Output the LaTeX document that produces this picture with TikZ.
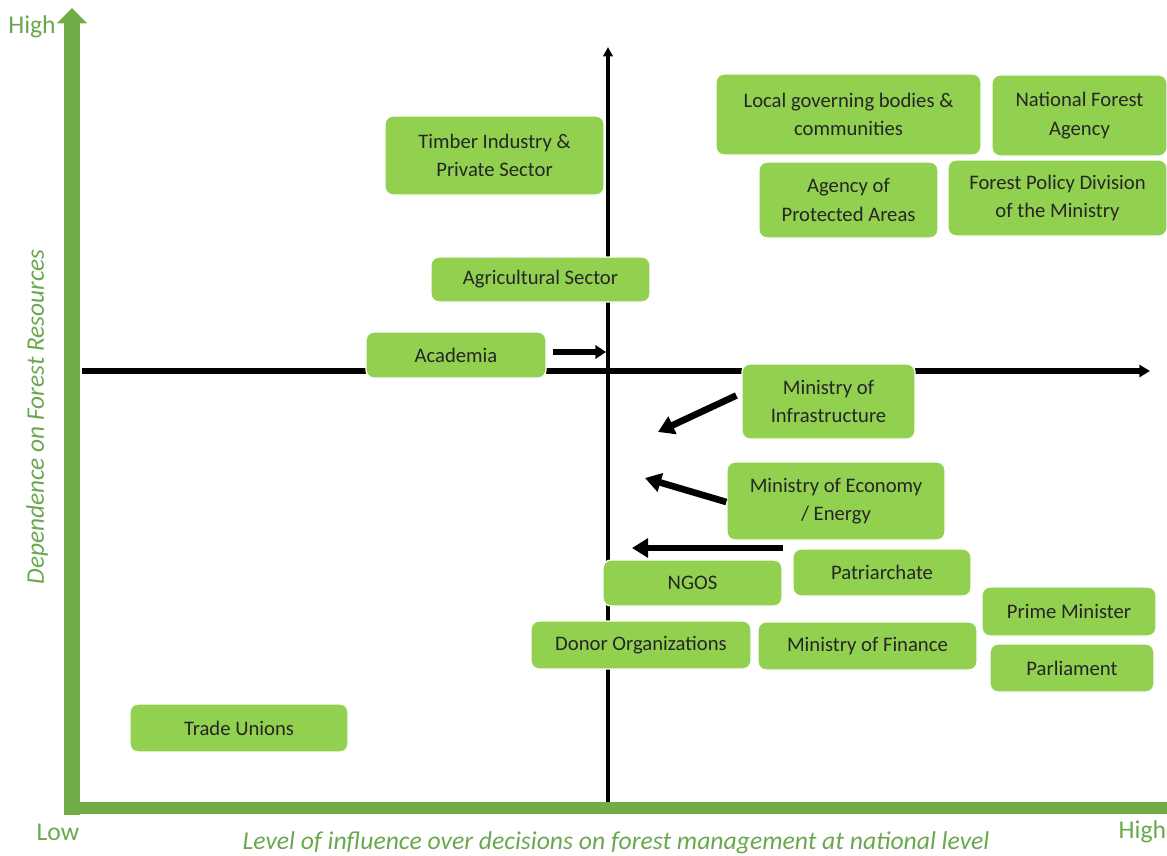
\documentclass[tikz,border=0pt]{standalone}
\usepackage{fontspec}
\setmainfont{Carlito}
\usetikzlibrary{arrows.meta}
\definecolor{boxgreen}{HTML}{92D050}
\definecolor{axgreen}{HTML}{70AD47}
\definecolor{labgreen}{HTML}{6AA84F}
\begin{document}
\begin{tikzpicture}[x=0.75pt,y=-0.75pt,
  bx/.style={rectangle, rounded corners=6pt, fill=boxgreen, draw=white, line width=1pt,
    align=center, inner sep=2pt, font=\fontsize{15.5}{21.5}\selectfont, text=black!85},
  axlab/.style={text=labgreen, font=\fontsize{19.25}{22}\selectfont},
  blk/.style={line width=3.5pt, black},
  mover/.style={line width=5pt, black, -{Triangle[length=12pt,width=14pt]}}
]
\clip (0,0) rectangle (1167,856);
\useasboundingbox (0,0) rectangle (1167,856);

% green axes
\coordinate (gtop) at (72,8);
\coordinate (gright) at (1190,808);
\draw[axgreen, line width=11.5pt, -{Triangle[length=11.5pt,width=22pt]}] (72,815) -- (gtop);
\draw[axgreen, line width=9.5pt, -{Triangle[length=11.5pt,width=22pt]}] (64,808) -- (gright);

% black quadrant axes
\coordinate (vbot) at (608,802);
\coordinate (vtop) at (608,47);
\coordinate (hleft) at (82,371);
\coordinate (hright) at (1150,371);
\draw[blk, -{Triangle[length=7pt,width=7pt]}] (vbot) -- (vtop);
\draw[blk, line width=4pt, -{Triangle[length=8pt,width=9pt]}] (hleft) -- (hright);

% axis labels
\node[axlab] (hi1) at (32,27) {High};
\node[axlab] (lo) at (58,832) {Low};
\node[axlab, anchor=east, inner sep=0.5pt] (hi2) at (1167,832) {High};
\node[axlab, font=\fontsize{19.25}{22}\selectfont\itshape] (xt) at (616,843) {Level of influence over decisions on forest management at national level};
\node[axlab, font=\fontsize{19}{22}\selectfont\itshape, rotate=90] (yt) at (37,417) {Dependence on Forest Resources};

% boxes
\node[bx, minimum width=164.25pt, minimum height=59.25pt] (timber) at (494.5,155.5) {Timber Industry \&\\Private Sector};
\node[bx, minimum width=198.75pt, minimum height=60.75pt] (local) at (848.5,114.5) {Local governing bodies \&\\communities};
\node[bx, minimum width=131.25pt, minimum height=60.75pt] (nfa) at (1079.5,115.5) {National Forest\\Agency};
\node[bx, minimum width=134.25pt, minimum height=57pt] (apa) at (848.5,200) {Agency of\\Protected Areas};
\node[bx, minimum width=164.25pt, minimum height=57pt] (fpd) at (1057.5,198) {Forest Policy Division\\of the Ministry};
\node[bx, minimum width=164.25pt, minimum height=33.75pt] (agri) at (540.5,279.5) {Agricultural Sector};
\node[bx, minimum width=135pt, minimum height=34.5pt] (acad) at (456,355) {Academia};
\node[bx, minimum width=129.75pt, minimum height=56.25pt] (infra) at (828.5,401.5) {Ministry of\\Infrastructure};
\node[bx, minimum width=163.5pt, minimum height=58.5pt] (econ) at (836,501) {Ministry of Economy\\/ Energy};
\node[bx, minimum width=133.5pt, minimum height=35.25pt] (patr) at (882,572.5) {Patriarchate};
\node[bx, minimum width=134.25pt, minimum height=34.5pt] (ngos) at (692.5,583) {NGOS};
\node[bx, minimum width=130.5pt, minimum height=36.75pt] (pm) at (1069,611.5) {Prime Minister};
\node[bx, minimum width=165pt, minimum height=36pt] (donor) at (641,645) {Donor Organizations};
\node[bx, minimum width=164.25pt, minimum height=36pt] (fin) at (867.5,646) {Ministry of Finance};
\node[bx, minimum width=123pt, minimum height=36pt] (parl) at (1072,668) {Parliament};
\node[bx, minimum width=163.5pt, minimum height=36pt] (trade) at (239,728) {Trade Unions};

% movement arrows
\coordinate (acadto) at (606,352);
\coordinate (infrato) at (658,432);
\coordinate (econto) at (645,478);
\coordinate (patrfrom) at (783,548);
\coordinate (patrto) at (632,548);
\draw[mover, line width=3.8pt, -{Triangle[length=8pt,width=10pt]}] ([xshift=5pt,yshift=2.25pt]acad.east) -- (acadto);
\draw[mover] ([xshift=-3.75pt,yshift=4.5pt]infra.west) -- (infrato);
\draw[mover] ([yshift=-0.75pt]econ.west) -- (econto);
\draw[mover] (patrfrom) -- (patrto);
\end{tikzpicture}
\end{document}
